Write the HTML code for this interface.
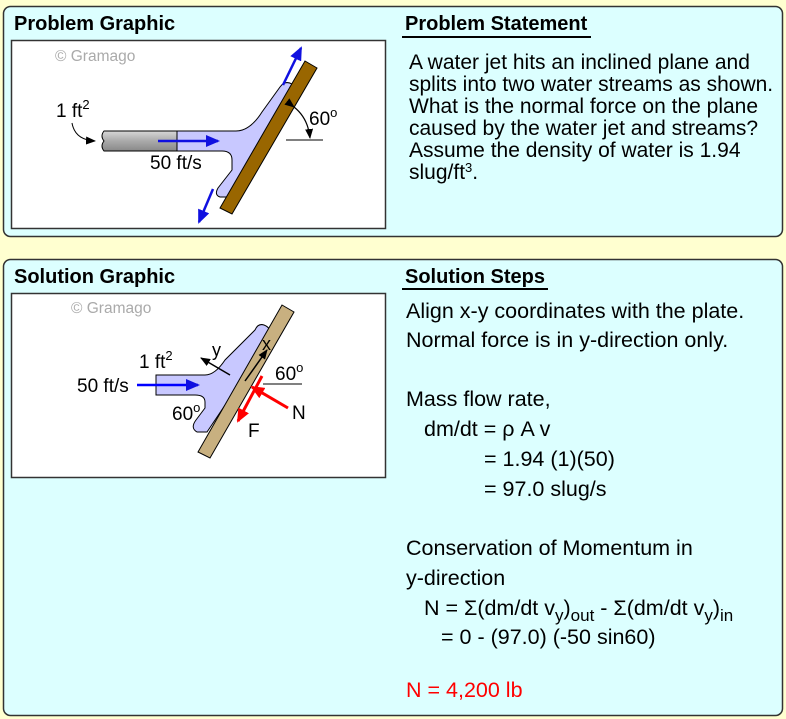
<!DOCTYPE html>
<html><head><meta charset="utf-8"><style>
html,body{margin:0;padding:0;background:#ffffd0;}
svg{display:block;font-family:"Liberation Sans",Arial,sans-serif;}
</style></head><body>
<svg width="786" height="719" viewBox="0 0 786 719" xmlns="http://www.w3.org/2000/svg">
<defs>
<marker id="abig" markerWidth="14" markerHeight="12" refX="12" refY="6" orient="auto" markerUnits="userSpaceOnUse"><path d="M0,0 L14,6 L0,12 Z" fill="#1010e0"/></marker>
<marker id="ak" markerWidth="10" markerHeight="8" refX="9" refY="4" orient="auto" markerUnits="userSpaceOnUse"><path d="M0,0 L10,4 L0,8 Z" fill="#000"/></marker>
<marker id="ar" markerWidth="14" markerHeight="12" refX="12" refY="6" orient="auto" markerUnits="userSpaceOnUse"><path d="M0,0 L14,6 L0,12 Z" fill="#ff0000"/></marker>
<linearGradient id="pg" x1="0" y1="0" x2="0" y2="1"><stop offset="0" stop-color="#d8d8d8"/><stop offset="0.5" stop-color="#aaa"/><stop offset="1" stop-color="#888"/></linearGradient>
</defs>
<rect x="0" y="0" width="786" height="719" fill="#ffffd0"/>
<rect x="3.5" y="6.5" width="779" height="230" rx="7" fill="#dcffff" stroke="#333" stroke-width="1.5"/>
<rect x="3.5" y="259.5" width="779" height="456" rx="7" fill="#dcffff" stroke="#333" stroke-width="1.5"/>

<!-- top panel -->
<text x="14" y="30" font-size="20" font-weight="bold">Problem Graphic</text>
<rect x="11.5" y="40.5" width="374" height="188" fill="#fff" stroke="#333" stroke-width="1.5"/>
<text x="55" y="61" font-size="15.5" fill="#aaa">© Gramago</text>

<text x="405" y="30" font-size="20" font-weight="bold">Problem Statement</text>
<line x1="402" y1="37" x2="591" y2="37" stroke="#000" stroke-width="2"/>
<g font-size="21">
<text x="409" y="69">A water jet hits an inclined plane and</text>
<text x="409" y="91">splits into two water streams as shown.</text>
<text x="409" y="113">What is the normal force on the plane</text>
<text x="409" y="135">caused by the water jet and streams?</text>
<text x="409" y="157">Assume the density of water is 1.94</text>
<text x="409" y="179">slug/ft<tspan font-size="13" dy="-7">3</tspan><tspan dy="7">.</tspan></text>
</g>

<!-- top figure -->
<path d="M177,131 L236,131 Q250,131 262,112 L280,87 Q285,80 292,84 L296,95 L236,197 L220,197 Q214,195 218,188 L232,170 L232,160 Q232,151 222,151 L177,151 Z" fill="#c8c8ff" stroke="#000" stroke-width="1"/>
<path d="M104,131 L177,131 L177,151 L104,151 Q100,146 104,141 Q100,136 104,131 Z" fill="url(#pg)" stroke="#000" stroke-width="1"/>
<polygon points="305,61 317,68 232,214 220,208" fill="#996600" stroke="#000" stroke-width="1"/>
<line x1="158" y1="141" x2="218" y2="141" stroke="#1010e0" stroke-width="2.5" marker-end="url(#abig)"/>
<line x1="283" y1="85" x2="301" y2="48" stroke="#1010e0" stroke-width="2.5" marker-end="url(#abig)"/>
<line x1="213" y1="189" x2="199" y2="222" stroke="#1010e0" stroke-width="2.5" marker-end="url(#abig)"/>
<line x1="286" y1="140" x2="323" y2="140" stroke="#000" stroke-width="1"/>
<path d="M294,107 Q308,118 310,138" fill="none" stroke="#000" stroke-width="1.2" marker-start="url(#ak)" marker-end="url(#ak)"/>
<text x="309" y="125" font-size="19">60<tspan font-size="13" dy="-8">o</tspan></text>
<text x="56" y="117" font-size="19">1 ft<tspan font-size="13" dy="-8">2</tspan></text>
<path d="M72,123 Q75,140 95,141" fill="none" stroke="#000" stroke-width="1" marker-end="url(#ak)"/>
<text x="150" y="169" font-size="19">50 ft/s</text>

<!-- bottom panel -->
<text x="14" y="283" font-size="20" font-weight="bold">Solution Graphic</text>
<rect x="11.5" y="293.5" width="374" height="184" fill="#fff" stroke="#333" stroke-width="1.5"/>
<text x="71" y="313" font-size="15.5" fill="#aaa">© Gramago</text>

<path d="M156,375 L205,375 Q215,375 225,360 L255,330 Q258,323 264,325 Q272,328 270,338 L207,432 L197,432 Q190,428 196,420 L205,408 L205,402 Q205,395 195,395 L156,395 Z" fill="#c8c8ff" stroke="#000" stroke-width="1"/>
<polygon points="282,305 294,312 210,458 198,452" fill="#c8b080" stroke="#000" stroke-width="1"/>
<line x1="137" y1="385" x2="198" y2="385" stroke="#0000ff" stroke-width="2.5" marker-end="url(#abig)"/>
<line x1="230" y1="375" x2="201" y2="358" stroke="#000" stroke-width="1.5" marker-end="url(#ak)"/>
<line x1="245" y1="381" x2="267" y2="350" stroke="#000" stroke-width="1.5" marker-end="url(#ak)"/>
<line x1="288" y1="408" x2="252" y2="387" stroke="#ff0000" stroke-width="3" marker-end="url(#ar)"/>
<line x1="262" y1="376" x2="238" y2="421" stroke="#ff0000" stroke-width="3" marker-end="url(#ar)"/>
<line x1="263" y1="384" x2="302" y2="384" stroke="#000" stroke-width="1"/>
<text x="212" y="356" font-size="18">y</text>
<text x="262" y="350" font-size="18">x</text>
<text x="139" y="368" font-size="19">1 ft<tspan font-size="13" dy="-8">2</tspan></text>
<text x="77" y="392" font-size="19">50 ft/s</text>
<text x="172" y="420" font-size="19">60<tspan font-size="13" dy="-8">o</tspan></text>
<text x="275" y="380" font-size="19">60<tspan font-size="13" dy="-8">o</tspan></text>
<text x="292" y="419" font-size="19">N</text>
<text x="248" y="437" font-size="19">F</text>

<text x="405" y="283" font-size="20" font-weight="bold">Solution Steps</text>
<line x1="402" y1="289" x2="548" y2="289" stroke="#000" stroke-width="2"/>
<g font-size="21.5">
<text x="406" y="318">Align x-y coordinates with the plate.</text>
<text x="406" y="347">Normal force is in y-direction only.</text>
<text x="406" y="406">Mass flow rate,</text>
<text x="424" y="436">dm/dt = ρ A v</text>
<text x="484" y="466">= 1.94 (1)(50)</text>
<text x="484" y="496">= 97.0 slug/s</text>
<text x="406" y="555">Conservation of Momentum in</text>
<text x="406" y="585">y-direction</text>
<text x="424" y="615">N = Σ(dm/dt v<tspan font-size="17" dy="6">y</tspan><tspan dy="-6">)</tspan><tspan font-size="17" dy="6">out</tspan><tspan dy="-6"> - Σ(dm/dt v</tspan><tspan font-size="17" dy="6">y</tspan><tspan dy="-6">)</tspan><tspan font-size="17" dy="6">in</tspan></text>
<text x="441" y="644">= 0 - (97.0) (-50 sin60)</text>
<text x="406" y="697" fill="#ff0000">N = 4,200 lb</text>
</g>
</svg>
</body></html>
